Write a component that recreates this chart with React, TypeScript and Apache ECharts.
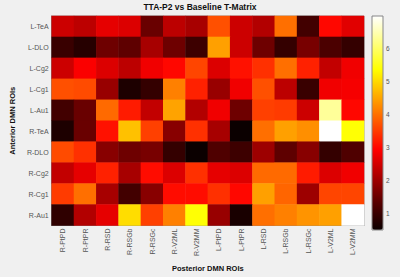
import React, { useEffect, useRef } from "react";
import * as echarts from "echarts";

const rowLabels = ["L-TeA", "L-DLO", "L-Cg2", "L-Cg1", "L-Au1", "R-TeA", "R-DLO", "R-Cg2", "R-Cg1", "R-Au1"];
const colLabels = ["R-PtPD", "R-PtPR", "R-RSD", "R-RSGb", "R-RSGc", "R-V2ML", "R-V2MM", "L-PtPD", "L-PtPR", "L-RSD", "L-RSGb", "L-RSGc", "L-V2ML", "L-V2MM"];

const rowLTeA = [2.45, 2.3, 2.7, 2.6, 1.5, 2.3, 2.1, 3.7, 2.45, 2.2, 4.0, 1.1, 3.0, 2.65];
const rowLDLO = [1.0, 0.8, 1.55, 1.4, 2.1, 1.55, 1.05, 4.47, 2.45, 1.55, 0.95, 1.65, 1.2, 0.95];
const rowLCg2 = [2.45, 2.9, 2.6, 2.3, 2.8, 3.0, 3.6, 2.6, 3.1, 3.4, 4.0, 3.25, 2.35, 2.8];
const rowLCg1 = [3.7, 3.65, 1.95, 0.7, 0.95, 4.16, 3.25, 1.95, 2.8, 3.7, 2.3, 1.0, 2.8, 2.85];
const rowLAu1 = [1.1, 1.5, 3.95, 3.2, 2.35, 4.5, 2.2, 2.8, 1.55, 3.55, 3.5, 2.45, 6.35, 3.0];
const rowRTeA = [0.7, 1.5, 3.1, 4.78, 3.55, 1.8, 3.4, 2.1, 0.5, 4.0, 4.47, 4.3, 7.0, 5.4];
const rowRDLO = [3.65, 3.4, 1.8, 1.55, 1.65, 0.95, 0.5, 1.25, 1.05, 2.0, 1.4, 1.8, 0.95, 1.25];
const rowRCg2 = [2.35, 2.7, 3.25, 2.1, 3.05, 2.6, 3.4, 2.7, 2.6, 3.95, 3.95, 3.2, 2.6, 2.8];
const rowRCg1 = [3.5, 4.0, 2.1, 1.1, 1.8, 3.05, 3.05, 3.4, 3.0, 4.47, 3.9, 2.0, 3.6, 3.6];
const rowRAu1 = [0.9, 2.2, 2.7, 5.05, 3.55, 4.16, 5.4, 1.95, 0.65, 4.0, 4.16, 4.35, 4.47, 7.0];

const matrix = [rowLTeA, rowLDLO, rowLCg2, rowLCg1, rowLAu1, rowRTeA, rowRDLO, rowRCg2, rowRCg1, rowRAu1];

const colorMin = 0.5;
const colorMax = 7.0;
const colorbarTicks = [1, 2, 3, 4, 5, 6];

const hotColors = ["#0b0000", "#550000", "#aa0000", "#ff0000", "#ff5500", "#ffaa00", "#ffff00", "#ffff80", "#ffffff"];

export default function App() {
  const ref = useRef<HTMLDivElement>(null);
  useEffect(() => {
    if (!ref.current) return;
    const chart = echarts.init(ref.current, null, { renderer: "svg" });
    const data: number[][] = [];
    matrix.forEach((row, r) => row.forEach((v, c) => data.push([c, r, v])));
    const font = "Liberation Sans, Arial, sans-serif";
    chart.setOption({
      animation: false,
      backgroundColor: "#f0f0f0",
      title: {
        text: "TTA-P2 vs Baseline T-Matrix",
        left: "center",
        top: 2,
        padding: [0, 0, 0, 7],
        textStyle: { fontSize: 8.5, fontWeight: "bold", color: "#111", fontFamily: font },
      },
      grid: [
        { left: 43, top: 16, width: 321, height: 227, show: true, borderColor: "#999", borderWidth: 1, backgroundColor: "transparent" },
        { left: 372, top: 16, width: 11, height: 214, show: true, borderColor: "#888", borderWidth: 1, backgroundColor: "transparent", z: 10 },
      ],
      xAxis: [
        {
          type: "category",
          data: colLabels,
          gridIndex: 0,
          position: "bottom",
          axisLine: { show: true, lineStyle: { color: "#888" } },
          axisTick: { show: false },
          axisLabel: { rotate: 90, fontSize: 7, color: "#555", margin: 3, fontFamily: font },
          splitLine: { show: false },
          name: "Posterior DMN ROIs",
          nameLocation: "middle",
          nameGap: 28,
          nameTextStyle: { fontSize: 7.5, fontWeight: "bold", color: "#111", fontFamily: font },
        },
        { type: "value", gridIndex: 1, show: false, min: 0, max: 1 },
      ],
      yAxis: [
        {
          type: "category",
          data: rowLabels,
          inverse: true,
          gridIndex: 0,
          axisLine: { show: true, lineStyle: { color: "#888" } },
          axisTick: { show: false },
          axisLabel: { fontSize: 7, color: "#555", margin: 3, fontFamily: font },
          splitLine: { show: false },
          name: "Anterior DMN ROIs",
          nameLocation: "middle",
          nameGap: 22,
          nameTextStyle: { fontSize: 7.5, fontWeight: "bold", color: "#111", fontFamily: font },
        },
        {
          type: "value",
          gridIndex: 1,
          position: "right",
          min: colorMin,
          max: colorMax,
          axisLine: { show: false },
          axisTick: { show: true, inside: false, length: 2, lineStyle: { color: "#666" }, customValues: colorbarTicks },
          axisLabel: { fontSize: 6.5, color: "#555", margin: 3, fontFamily: font, customValues: colorbarTicks },
          splitLine: { show: false },
        },
      ],
      visualMap: {
        type: "continuous",
        min: colorMin,
        max: colorMax,
        seriesIndex: 0,
        calculable: false,
        show: true,
        left: 372,
        top: 16,
        padding: 0,
        itemWidth: 11,
        itemHeight: 214,
        inRange: { color: hotColors },
        textStyle: { fontSize: 0 },
      },
      series: [
        {
          type: "heatmap",
          xAxisIndex: 0,
          yAxisIndex: 0,
          data,
          itemStyle: { borderWidth: 0 },
          emphasis: { disabled: true },
        },
      ],
    });
    return () => chart.dispose();
  }, []);
  return <div ref={ref} style={{ position: "fixed", left: 0, top: 0, width: 400, height: 277 }} />;
}
